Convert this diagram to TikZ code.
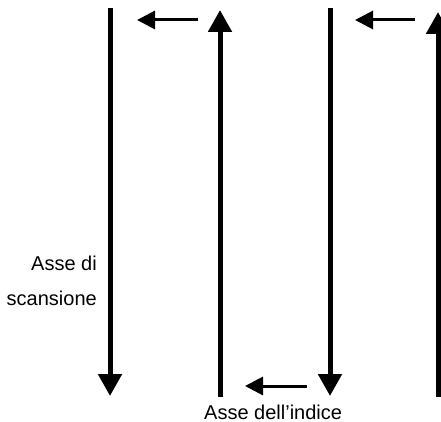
\documentclass[tikz,border=0pt]{standalone}
\usepackage{fontspec}
\setmainfont{Liberation Sans}
\usetikzlibrary{arrows.meta,positioning}

\begin{document}
\begin{tikzpicture}[x=1pt,y=-1pt,
		axis/.style={line width=5pt,-{Triangle[length=22pt,width=23pt]}},
		stepleft/.style={line width=3pt,-{Triangle[length=18pt,width=18pt]}},
		lbl/.style={inner sep=0pt,font=\fontsize{20}{35}\selectfont}]
		\useasboundingbox (0,0) rectangle (441,422);
		% scan columns
		\coordinate (t_1) at (110,8);   \coordinate (b_1) at (110,396);
		\coordinate (b_2) at (220,397); \coordinate (t_2) at (220,10);
		\coordinate (t_3) at (330,8);   \coordinate (b_3) at (330,396);
		\coordinate (b_4) at (438,397); \coordinate (t_4) at (438,12);
		% index steps
		\coordinate (h_1) at (198,20);  \coordinate (k_1) at (137,20);
		\coordinate (h_2) at (415,20);  \coordinate (k_2) at (355,20);
		\coordinate (h_3) at (307,386); \coordinate (k_3) at (245,386);
		\path[axis]
		(t_1) edge (b_1)
		(b_2) edge (t_2)
		(t_3) edge (b_3)
		(b_4) edge (t_4);
		\path[stepleft]
		(h_1) edge (k_1)
		(h_2) edge (k_2)
		(h_3) edge (k_3);
		\node[lbl, align=right, anchor=base east] (scan) at (97,305) {Asse di\\scansione};
		\node[lbl, anchor=base west] (index) at (204,419) {Asse dell’indice};
	\end{tikzpicture}
\end{document}
